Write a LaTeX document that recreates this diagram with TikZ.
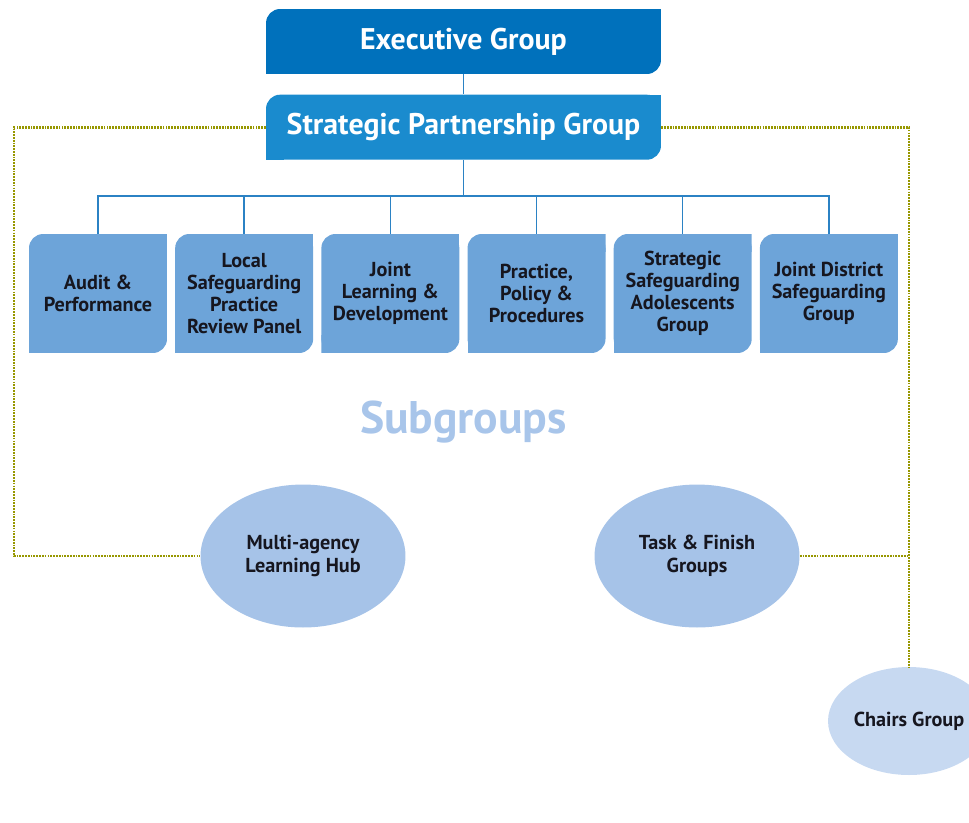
\documentclass[tikz,border=0pt]{standalone}
\usepackage{fontspec}
\setmainfont{PT Sans}
\usetikzlibrary{positioning,shapes.geometric}

\definecolor{execblue}{HTML}{0071BC}
\definecolor{spgblue}{HTML}{1A8BCE}
\definecolor{subblue}{HTML}{6DA4D9}
\definecolor{ovalblue}{HTML}{A6C3E8}
\definecolor{chairblue}{HTML}{C7D9F1}
\definecolor{labelblue}{HTML}{A8C5EA}
\definecolor{linkblue}{HTML}{2B82C4}
\definecolor{dotolive}{HTML}{979700}
\definecolor{inktext}{HTML}{16161F}

\tikzset{
  tabfill/.style={path picture={
      \fill[#1, rounded corners=8pt] (path picture bounding box.south west) rectangle (path picture bounding box.north east);
      \fill[#1] (path picture bounding box.north east) rectangle ([xshift=-10pt,yshift=-10pt]path picture bounding box.north east);
      \fill[#1] (path picture bounding box.south west) rectangle ([xshift=10pt,yshift=10pt]path picture bounding box.south west);
  }},
  topbox/.style={tabfill=#1, minimum width=7.9cm, minimum height=1.3cm, inner sep=0pt,
      text=white, font=\fontsize{17}{19}\selectfont\bfseries},
  subbox/.style={tabfill=subblue, minimum width=2.76cm, minimum height=2.38cm, inner sep=0pt,
      align=center, text=inktext, font=\fontsize{11.5}{12.6}\selectfont\bfseries},
  oval/.style={ellipse, fill=#1, minimum width=4.1cm, minimum height=2.86cm, inner sep=0pt,
      align=center, text=inktext, font=\fontsize{11.5}{13}\selectfont\bfseries},
  link/.style={draw=linkblue, line width=0.8pt},
  dotline/.style={draw=dotolive, line width=1.5pt, dash pattern=on 1pt off 0.6pt}
}

\begin{document}
\begin{tikzpicture}[x=0.02cm, y=-0.02cm]
\useasboundingbox (0,0) rectangle (969,822);
\clip (0,0) rectangle (969,822);

% Top of the structure
\node[topbox=execblue] (exec) at (463.5,41.5) {Executive Group};
\node[topbox=spgblue, below=0.4cm of exec] (spg) {Strategic Partnership Group};

% Subgroups row
\node[subbox] (audit) at (98,293.5) {Audit \&\\Performance};
\node[subbox, right=0.15cm of audit] (review) {Local\\Safeguarding\\Practice\\Review Panel};
\node[subbox, right=0.15cm of review] (learning) {Joint\\Learning \&\\Development};
\node[subbox, right=0.15cm of learning] (policy) {Practice,\\Policy \&\\Procedures};
\node[subbox, right=0.15cm of policy] (adolescents) {Strategic\\Safeguarding\\Adolescents\\Group};
\node[subbox, right=0.15cm of adolescents] (district) {Joint District\\Safeguarding\\Group};

\node[text=labelblue, font=\fontsize{26}{28}\selectfont\bfseries] (sublabel) at (463.5,422) {Subgroups};

% Ovals
\node[oval=ovalblue] (hub) at (303,556) {Multi-agency\\Learning Hub};
\node[oval=ovalblue] (task) at (697,556) {Task \& Finish\\Groups};
\node[oval=chairblue, minimum width=3.24cm, minimum height=2.16cm] (chairs) at (909,721) {Chairs Group};

% Lines
\draw[link] (exec.south) -- (spg.north);
\foreach \b in {audit,review,learning,policy,adolescents,district}
  \draw[link] (spg.south) -- ++(0,36) -| (\b.north);

\coordinate (lside) at (14,0);
\draw[dotline] (spg.west) -| (lside |- hub.west) -- (hub.west);
\draw[dotline] (spg.east) -| (chairs.north);
\draw[dotline] (task.east) -- (task.east -| chairs.north);

\end{tikzpicture}
\end{document}
